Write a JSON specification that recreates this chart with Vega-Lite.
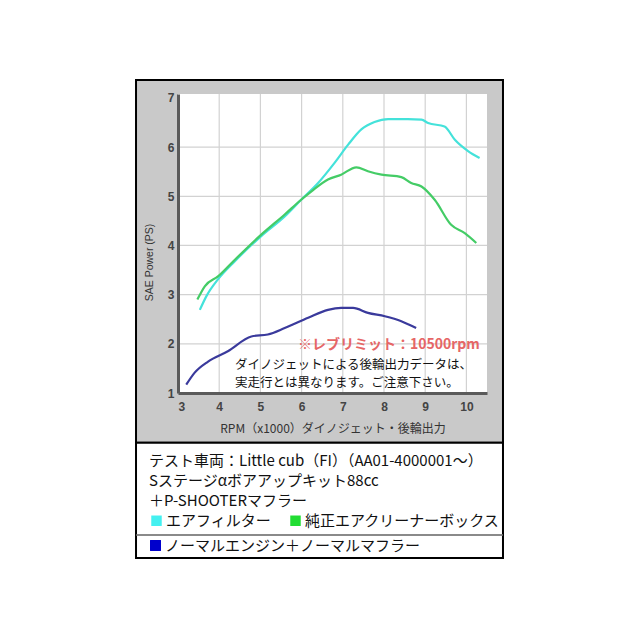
{
  "$schema": "https://vega.github.io/schema/vega-lite/v6.json",
  "width": 309,
  "height": 299,
  "autosize": {"type": "none"},
  "padding": {"left": 178, "top": 94, "right": 153, "bottom": 247},
  "background": "white",
  "config": {
    "view": {"stroke": null},
    "font": "Noto Sans CJK JP",
    "axis": {
      "ticks": false,
      "grid": false,
      "domainColor": "#5a5a5a",
      "domainWidth": 3,
      "labelFont": "Liberation Sans",
      "labelFontWeight": "bold",
      "labelFontSize": 12,
      "labelColor": "#444444",
      "titleColor": "#333333",
      "titleFontWeight": "normal"
    }
  },
  "data": {
    "values": [
      {"series": "エアフィルター", "rpm": 3.53, "ps": 2.69},
      {"series": "エアフィルター", "rpm": 3.69, "ps": 2.97},
      {"series": "エアフィルター", "rpm": 3.97, "ps": 3.31},
      {"series": "エアフィルター", "rpm": 4.38, "ps": 3.68},
      {"series": "エアフィルター", "rpm": 5.02, "ps": 4.19},
      {"series": "エアフィルター", "rpm": 5.59, "ps": 4.59},
      {"series": "エアフィルター", "rpm": 5.99, "ps": 4.93},
      {"series": "エアフィルター", "rpm": 6.40, "ps": 5.27},
      {"series": "エアフィルター", "rpm": 6.80, "ps": 5.68},
      {"series": "エアフィルター", "rpm": 7.13, "ps": 6.05},
      {"series": "エアフィルター", "rpm": 7.45, "ps": 6.36},
      {"series": "エアフィルター", "rpm": 7.77, "ps": 6.51},
      {"series": "エアフィルター", "rpm": 8.10, "ps": 6.57},
      {"series": "エアフィルター", "rpm": 8.58, "ps": 6.57},
      {"series": "エアフィルター", "rpm": 8.91, "ps": 6.56},
      {"series": "エアフィルター", "rpm": 9.07, "ps": 6.49},
      {"series": "エアフィルター", "rpm": 9.47, "ps": 6.42},
      {"series": "エアフィルター", "rpm": 9.72, "ps": 6.15},
      {"series": "エアフィルター", "rpm": 10.04, "ps": 5.92},
      {"series": "エアフィルター", "rpm": 10.32, "ps": 5.78},
      {"series": "純正エアクリーナーボックス", "rpm": 3.47, "ps": 2.90},
      {"series": "純正エアクリーナーボックス", "rpm": 3.65, "ps": 3.17},
      {"series": "純正エアクリーナーボックス", "rpm": 3.97, "ps": 3.37},
      {"series": "純正エアクリーナーボックス", "rpm": 4.38, "ps": 3.71},
      {"series": "純正エアクリーナーボックス", "rpm": 5.02, "ps": 4.22},
      {"series": "純正エアクリーナーボックス", "rpm": 5.59, "ps": 4.63},
      {"series": "純正エアクリーナーボックス", "rpm": 5.99, "ps": 4.93},
      {"series": "純正エアクリーナーボックス", "rpm": 6.24, "ps": 5.10},
      {"series": "純正エアクリーナーボックス", "rpm": 6.64, "ps": 5.34},
      {"series": "純正エアクリーナーボックス", "rpm": 6.96, "ps": 5.44},
      {"series": "純正エアクリーナーボックス", "rpm": 7.33, "ps": 5.59},
      {"series": "純正エアクリーナーボックス", "rpm": 7.61, "ps": 5.51},
      {"series": "純正エアクリーナーボックス", "rpm": 7.94, "ps": 5.44},
      {"series": "純正エアクリーナーボックス", "rpm": 8.42, "ps": 5.39},
      {"series": "純正エアクリーナーボックス", "rpm": 8.66, "ps": 5.27},
      {"series": "純正エアクリーナーボックス", "rpm": 8.91, "ps": 5.20},
      {"series": "純正エアクリーナーボックス", "rpm": 9.23, "ps": 4.93},
      {"series": "純正エアクリーナーボックス", "rpm": 9.63, "ps": 4.42},
      {"series": "純正エアクリーナーボックス", "rpm": 9.96, "ps": 4.25},
      {"series": "純正エアクリーナーボックス", "rpm": 10.24, "ps": 4.05},
      {"series": "ノーマルエンジン＋ノーマルマフラー", "rpm": 3.20, "ps": 1.17},
      {"series": "ノーマルエンジン＋ノーマルマフラー", "rpm": 3.40, "ps": 1.41},
      {"series": "ノーマルエンジン＋ノーマルマフラー", "rpm": 3.73, "ps": 1.64},
      {"series": "ノーマルエンジン＋ノーマルマフラー", "rpm": 4.21, "ps": 1.85},
      {"series": "ノーマルエンジン＋ノーマルマフラー", "rpm": 4.78, "ps": 2.15},
      {"series": "ノーマルエンジン＋ノーマルマフラー", "rpm": 5.18, "ps": 2.19},
      {"series": "ノーマルエンジン＋ノーマルマフラー", "rpm": 5.59, "ps": 2.32},
      {"series": "ノーマルエンジン＋ノーマルマフラー", "rpm": 6.16, "ps": 2.53},
      {"series": "ノーマルエンジン＋ノーマルマフラー", "rpm": 6.64, "ps": 2.69},
      {"series": "ノーマルエンジン＋ノーマルマフラー", "rpm": 6.96, "ps": 2.73},
      {"series": "ノーマルエンジン＋ノーマルマフラー", "rpm": 7.25, "ps": 2.73},
      {"series": "ノーマルエンジン＋ノーマルマフラー", "rpm": 7.61, "ps": 2.63},
      {"series": "ノーマルエンジン＋ノーマルマフラー", "rpm": 8.02, "ps": 2.56},
      {"series": "ノーマルエンジン＋ノーマルマフラー", "rpm": 8.42, "ps": 2.46},
      {"series": "ノーマルエンジン＋ノーマルマフラー", "rpm": 8.78, "ps": 2.32}
    ]
  },
  "layer": [
    {
      "data": {"values": [{}]},
      "mark": {"type": "rect", "fill": "#c9c9c9", "stroke": "black", "strokeWidth": 2, "clip": false},
      "encoding": {
        "x": {"datum": 1.981, "type": "quantitative"},
        "x2": {"datum": 10.888},
        "y": {"datum": 7.365, "type": "quantitative"},
        "y2": {"datum": -0.01}
      }
    },
    {
      "data": {"values": [{}]},
      "mark": {"type": "rect", "fill": "white", "stroke": "black", "strokeWidth": 2, "clip": false},
      "encoding": {
        "x": {"datum": 1.981, "type": "quantitative"},
        "x2": {"datum": 10.888},
        "y": {"datum": -0.01, "type": "quantitative"},
        "y2": {"datum": -2.355}
      }
    },
    {
      "data": {"values": [{}]},
      "mark": {"type": "rule", "color": "#8a8a8a", "strokeWidth": 2, "clip": false},
      "encoding": {
        "x": {"datum": 1.99, "type": "quantitative"},
        "x2": {"datum": 10.88},
        "y": {"datum": -1.887, "type": "quantitative"}
      }
    },
    {
      "data": {"values": [{}]},
      "mark": {"type": "rect", "fill": "white", "clip": false},
      "encoding": {
        "x": {"datum": 3, "type": "quantitative"},
        "x2": {"datum": 10.5},
        "y": {"datum": 7.08, "type": "quantitative"},
        "y2": {"datum": 1}
      }
    },
    {
      "data": {"values": [{"gx": 4}, {"gx": 5}, {"gx": 6}, {"gx": 7}, {"gx": 8}, {"gx": 9}, {"gx": 10}]},
      "mark": {"type": "rule", "color": "#d2d2d2", "strokeWidth": 1.2},
      "encoding": {
        "x": {"field": "gx", "type": "quantitative"},
        "y": {"datum": 1, "type": "quantitative"},
        "y2": {"datum": 7.08}
      }
    },
    {
      "data": {"values": [{"gy": 2}, {"gy": 3}, {"gy": 4}, {"gy": 5}, {"gy": 6}]},
      "mark": {"type": "rule", "color": "#d2d2d2", "strokeWidth": 1.2},
      "encoding": {
        "y": {"field": "gy", "type": "quantitative"},
        "x": {"datum": 3, "type": "quantitative"},
        "x2": {"datum": 10.5}
      }
    },
    {
      "transform": [{"filter": {"field": "series", "oneOf": ["エアフィルター", "純正エアクリーナーボックス"]}}],
      "mark": {"type": "line", "strokeWidth": 2.2, "interpolate": "monotone"},
      "encoding": {
        "x": {
          "field": "rpm",
          "type": "quantitative",
          "scale": {"domain": [3, 10.5], "nice": false, "zero": false},
          "axis": {
            "zindex": 1,
            "values": [3, 4, 5, 6, 7, 8, 9, 10],
            "title": "RPM（x1000）ダイノジェット・後輪出力",
            "titleFont": "Noto Sans CJK JP",
            "titleFontSize": 12,
            "labelPadding": 8,
            "titleY": 35,
            "titleBaseline": "middle"
          }
        },
        "y": {
          "field": "ps",
          "type": "quantitative",
          "scale": {"domain": [1, 7.08], "nice": false, "zero": false},
          "axis": {
            "zindex": 1,
            "values": [1, 2, 3, 4, 5, 6, 7],
            "title": "SAE Power (PS)",
            "titleFont": "Liberation Sans",
            "titleFontSize": 10.5,
            "labelPadding": 4,
            "titleX": -29,
            "titleY": 168,
            "titleAlign": "center",
            "titleBaseline": "middle"
          }
        },
        "color": {
          "field": "series",
          "type": "nominal",
          "scale": {"domain": ["エアフィルター", "純正エアクリーナーボックス"], "range": ["#44e2da", "#44cc66"]},
          "legend": {
            "orient": "none",
            "legendX": -29,
            "legendY": 360,
            "direction": "horizontal",
            "padding": 0,
            "zindex": 1,
            "title": ["テスト車両：Little cub（FI）（AA01-4000001～）", "Sステージαボアアップキット88cc", "＋P-SHOOTERマフラー"],
            "titleFont": "Noto Sans CJK JP",
            "titleFontSize": 15,
            "titleFontWeight": "normal",
            "titleColor": "#111111",
            "titleLineHeight": 20,
            "titlePadding": 4,
            "titleLimit": 500,
            "symbolType": "square",
            "symbolSize": 110,
            "labelFont": "Noto Sans CJK JP",
            "labelFontSize": 15,
            "labelColor": "#111111",
            "labelLimit": 400,
            "labelOffset": 2,
            "columnPadding": 16,
            "encode": {
              "symbols": {
                "update": {
                  "fill": {"signal": "datum.value === 'エアフィルター' ? '#44f0f0' : '#22dd33'"},
                  "strokeWidth": {"value": 0}
                }
              }
            }
          }
        }
      }
    },
    {
      "transform": [{"filter": {"field": "series", "equal": "ノーマルエンジン＋ノーマルマフラー"}}],
      "mark": {"type": "line", "strokeWidth": 2.2, "interpolate": "monotone"},
      "encoding": {
        "x": {"field": "rpm", "type": "quantitative"},
        "y": {"field": "ps", "type": "quantitative"},
        "stroke": {
          "field": "series",
          "type": "nominal",
          "scale": {"domain": ["ノーマルエンジン＋ノーマルマフラー"], "range": ["#3a3a9c"]},
          "legend": {
            "orient": "none",
            "legendX": -30,
            "legendY": 444,
            "padding": 0,
            "zindex": 1,
            "title": null,
            "symbolType": "square",
            "symbolSize": 120,
            "labelFont": "Noto Sans CJK JP",
            "labelFontSize": 15,
            "labelColor": "#111111",
            "labelLimit": 400,
            "labelOffset": 2,
            "encode": {
              "symbols": {
                "update": {
                  "fill": {"value": "#0000cc"},
                  "strokeWidth": {"value": 0}
                }
              }
            }
          }
        }
      }
    },
    {
      "data": {"values": [{}]},
      "mark": {"type": "text", "text": "※レブリミット：10500rpm", "align": "left", "baseline": "middle", "fontSize": 14, "fontWeight": "bold", "color": "#e66666"},
      "encoding": {
        "x": {"datum": 5.91, "type": "quantitative"},
        "y": {"datum": 1.976, "type": "quantitative"}
      }
    },
    {
      "data": {"values": [{}]},
      "mark": {"type": "text", "text": ["ダイノジェットによる後輪出力データは、", "実走行とは異なります。ご注意下さい。"], "align": "left", "baseline": "middle", "lineHeight": 18, "fontSize": 12.5, "color": "#111111"},
      "encoding": {
        "x": {"datum": 4.383, "type": "quantitative"},
        "y": {"datum": 1.57, "type": "quantitative"}
      }
    }
  ]
}
